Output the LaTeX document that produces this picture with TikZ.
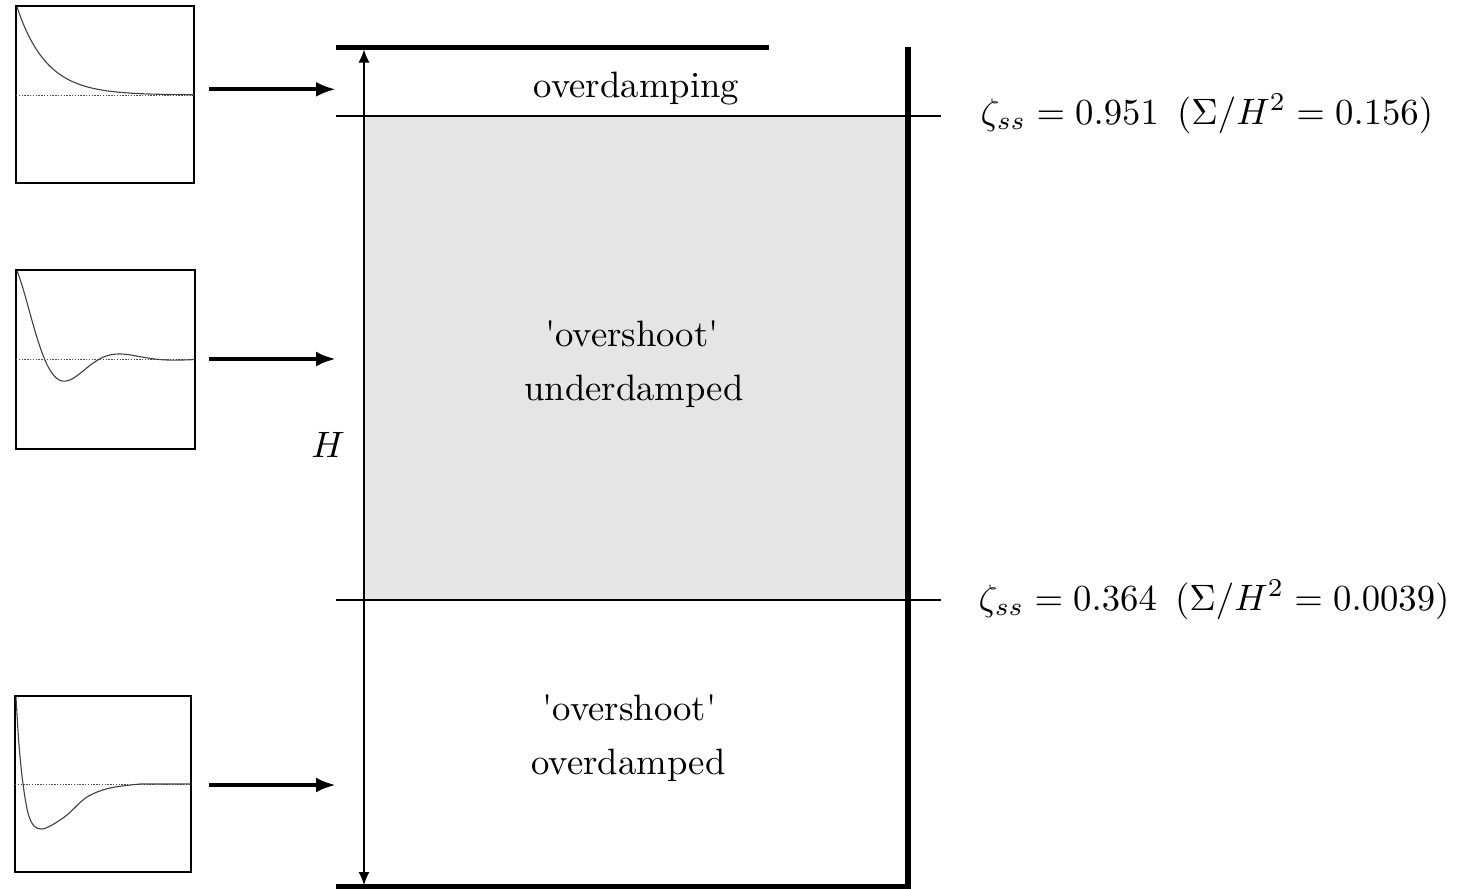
\documentclass[tikz,border=0pt]{standalone}
\usetikzlibrary{arrows.meta}
\begin{document}
\begin{tikzpicture}[x=0.5pt,y=-0.5pt,
  txt/.style={inner sep=0pt,font=\fontsize{10}{12}\selectfont,scale=1.835,transform shape},
  mlabel/.style={txt,anchor=base west},
  plotbox/.style={draw,line width=1pt,inner sep=0pt},
  respcurve/.style={draw=black!75,line width=0.55pt},
  zeroline/.style={draw=black!70,line width=0.45pt,dash pattern=on 0.7pt off 0.7pt},
  bigarrow/.style={line width=2pt,-{Latex[length=10pt,width=7.5pt]}},
  dimarrow/.style={line width=0.6pt,{Latex[length=6.5pt,width=5.5pt]}-{Latex[length=6.5pt,width=5.5pt]}},
  wall/.style={line width=3pt,line join=miter},
  topwall/.style={line width=2.6pt},
  level/.style={line width=0.7pt},
  band/.style={fill=black!10}]
\useasboundingbox (0,0) rectangle (1463,889);

% shaded underdamped band and level lines
\fill[band] (364,116) rectangle (906,600);
\coordinate (l1a) at (336,116); \coordinate (l1b) at (941,116);
\coordinate (l2a) at (336,600); \coordinate (l2b) at (941,600);
\draw[level] (l1a) -- (l1b);
\draw[level] (l2a) -- (l2b);

% walls
\coordinate (topL) at (336,47.5); \coordinate (topR) at (769,47.5);
\draw[topwall] (topL) -- (topR);
\coordinate (botL) at (336,886.5); \coordinate (botR) at (907.5,886.5); \coordinate (rightT) at (907.5,47);
\draw[wall] (botL) -- (botR) -- (rightT);

% height dimension
\coordinate (hTop) at (364,49.5); \coordinate (hBot) at (364,885);
\draw[dimarrow] (hTop) -- (hBot);
\node[txt] (H) at (328,445) {$H$};

% region texts
\node[txt,anchor=base] (t1) at (636.5,97) {overdamping};
\node[txt,anchor=base] (t2a) at (632,346.5) {\textquotesingle overshoot\textquotesingle};
\node[txt,anchor=base] (t2b) at (634,400.5) {underdamped};
\node[txt,anchor=base] (t3a) at (629.5,720) {\textquotesingle overshoot\textquotesingle};
\node[txt,anchor=base] (t3b) at (628.5,774) {overdamped};

% level labels
\node[mlabel] (z1) at (980,124) {$\zeta_{ss} = 0.951\enskip(\Sigma/H^2 = 0.156)$};
\node[mlabel] (z2) at (978,610) {$\zeta_{ss} = 0.364\enskip(\Sigma/H^2 = 0.0039)$};

% response plots
\node[plotbox,minimum width=89pt,minimum height=88.5pt] (p1) at (105,94.5) {};
\node[plotbox,minimum width=89.5pt,minimum height=89.5pt] (p2) at (105.5,359.3) {};
\node[plotbox,minimum width=88pt,minimum height=87.8pt] (p3) at (103,783.8) {};

\draw[zeroline] (16,95) -- (194,95);
\draw[respcurve] plot[domain=0:177,samples=90] ({17+\x},{95-88*exp(-\x/29.5)});

\draw[zeroline] (16,359) -- (195,359);
\draw[respcurve] plot[domain=0:178,samples=120] ({17+\x},{359-88*exp(-0.027*\x)*cos(3.27*\x)});

\draw[zeroline] (15,784) -- (191,784);
\draw[respcurve] plot[smooth,tension=0.55] coordinates {(16,697) (19,745) (23,784) (28,813) (34,826) (42,829) (52,825) (67,815) (87,797) (110,788) (140,784)} -- (191,784);

% arrows from plots to the regions
\coordinate (a1s) at (209,89.3); \coordinate (a1e) at (336,89.3);
\coordinate (a2s) at (209,359); \coordinate (a2e) at (336,359);
\coordinate (a3s) at (209,785); \coordinate (a3e) at (336,785);
\draw[bigarrow] (a1s) -- (a1e);
\draw[bigarrow] (a2s) -- (a2e);
\draw[bigarrow] (a3s) -- (a3e);
\end{tikzpicture}
\end{document}
